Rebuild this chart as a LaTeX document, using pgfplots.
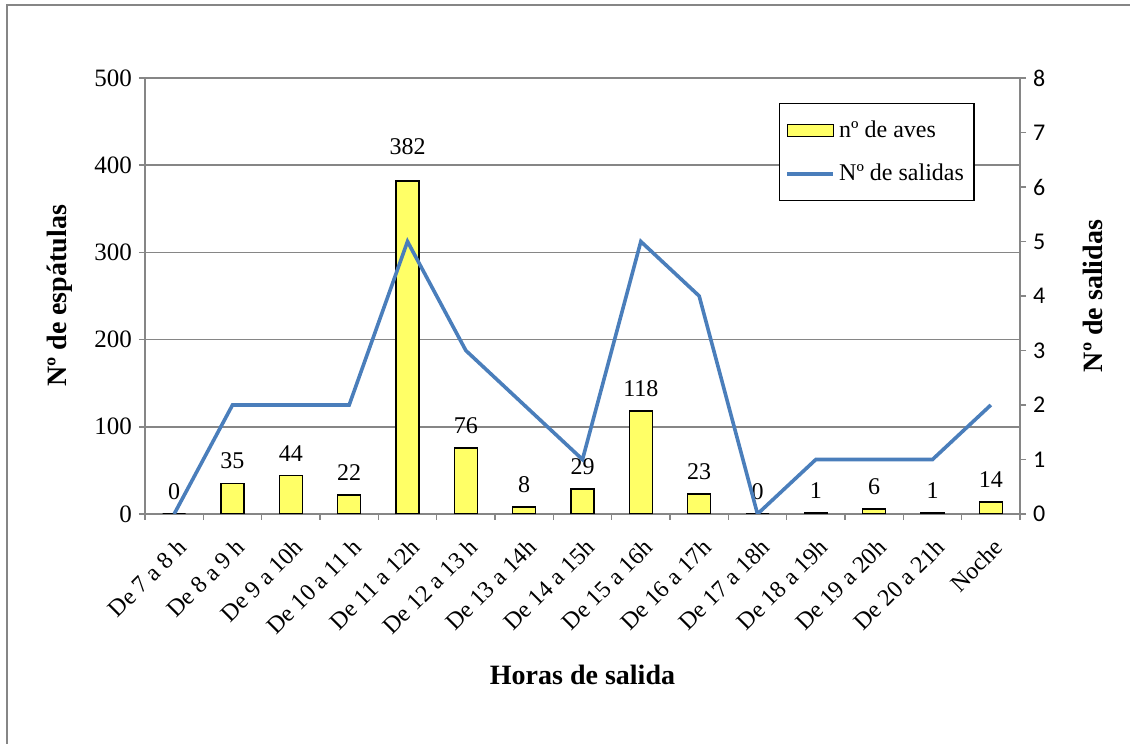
\documentclass[border=0pt]{standalone}
\usepackage{pgfplots}
\pgfplotsset{compat=1.18}
\usepackage{pgfplotstable}
\usepackage{fontspec}
\setmainfont{Liberation Serif}
\newfontfamily\calibri{Carlito}
\definecolor{baryellow}{RGB}{255,255,102}
\definecolor{lineblue}{RGB}{74,126,187}
\definecolor{axgray}{RGB}{134,134,134}
\pgfplotstableread{
x aves salidas
0 0 0
1 35 2
2 44 2
3 22 2
4 382 5
5 76 3
6 8 2
7 29 1
8 118 5
9 23 4
10 0 0
11 1 1
12 6 1
13 1 1
14 14 2
}\datatable
\begin{document}
\begin{tikzpicture}
\useasboundingbox (0pt,0pt) rectangle (565pt,372pt);
\draw[axgray, line width=1pt] (3.5pt,0pt) -- (3.5pt,369.5pt) -- (565pt,369.5pt);
\begin{axis}[
  at={(72.5pt,115pt)}, anchor=south west, scale only axis,
  width=437.5pt, height=218pt,
  xmin=-0.5, xmax=14.5, ymin=0, ymax=500,
  axis x line*=bottom, axis y line*=left,
  axis line style={-, axgray, line width=0.8pt},
  /pgf/number format/assume math mode=true,
  xtick={0,...,14},
  xticklabels={De 7 a 8 h, De 8 a 9 h, De 9 a 10h, De 10 a 11 h, De 11 a 12h, De 12 a 13 h, De 13 a 14h, De 14 a 15h, De 15 a 16h, De 16 a 17h, De 17 a 18h, De 18 a 19h, De 19 a 20h, De 20 a 21h, Noche},
  major x tick style={draw=none},
  minor xtick={-0.5,0.5,...,14.5},
  ytick={0,100,...,500},
  tick align=outside,
  major tick length=3pt, minor tick length=3pt,
  tick style={axgray, line width=0.8pt},
  ymajorgrids, grid style={axgray, line width=0.8pt},
  xticklabel style={rotate=45, anchor=east, font=\fontsize{12}{14}\selectfont, yshift=-11pt, xshift=-2pt},
  yticklabel style={font=\fontsize{12.5}{14}\selectfont},
  xlabel={Horas de salida},
  xlabel style={font=\bfseries\fontsize{14}{16}\selectfont, at={(axis description cs:0.5,-0.369)}, anchor=center},
  ylabel={Nº de espátulas},
  ylabel style={font=\bfseries\fontsize{14}{16}\selectfont, at={(axis description cs:-0.0971,0.5)}, anchor=center},
]
\addplot[ybar, bar width=11.5pt, fill=baryellow, draw=black, line width=0.8pt,
  visualization depends on={ifthenelse(y>300,6,0) \as \extrashift},
  nodes near coords, every node near coord/.append style={font=\fontsize{12}{14}\selectfont, yshift={3.5pt+\extrashift*1pt}, black}]
  table[x=x, y=aves]{\datatable};
\end{axis}
\begin{axis}[
  at={(72.5pt,115pt)}, anchor=south west, scale only axis,
  width=437.5pt, height=218pt,
  xmin=-0.5, xmax=14.5, ymin=0, ymax=8,
  axis x line=none, axis y line*=right,
  axis line style={-, axgray, line width=0.8pt},
  /pgf/number format/assume math mode=true,
  ytick={0,...,8},
  tick align=outside, major tick length=3pt,
  tick style={axgray, line width=0.8pt},
  yticklabel style={font=\calibri\fontsize{12}{14}\selectfont},
  ylabel={Nº de salidas},
  ylabel style={font=\bfseries\fontsize{14}{16}\selectfont, at={(axis description cs:1.0834,0.5)}, anchor=center, rotate=0},
  legend style={at={(0.7246,0.9427)}, anchor=north west, draw=black, line width=0.6pt,
    font=\fontsize{12}{14}\selectfont, row sep=8pt, inner xsep=3pt, inner ysep=6.5pt},
  legend cell align=left,
]
\addlegendimage{legend image code/.code={\draw[fill=baryellow, draw=black, line width=0.6pt] (0pt,-3pt) rectangle (23pt,3pt);}}
\addlegendentry{nº de aves}
\addplot[lineblue, line width=1.8pt, legend image code/.code={\draw[lineblue, line width=1.8pt] (0pt,0pt) -- (23pt,0pt);}]
  table[x=x, y=salidas]{\datatable};
\addlegendentry{Nº de salidas}
\end{axis}
\end{tikzpicture}
\end{document}
